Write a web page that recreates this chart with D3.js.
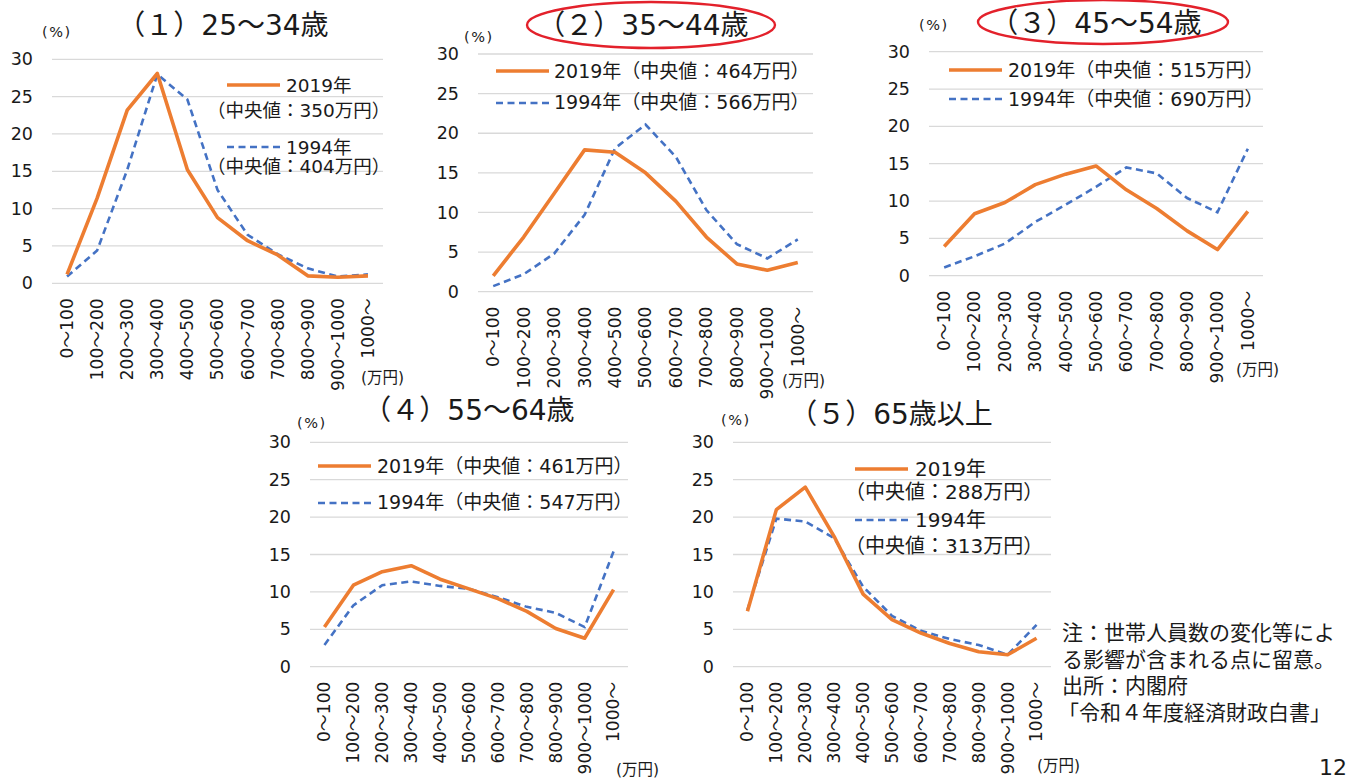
<!DOCTYPE html>
<html lang="ja">
<head>
<meta charset="utf-8">
<script src="https://cdn.jsdelivr.net/npm/d3@7"></script>
<style>
  html, body { margin: 0; padding: 0; background: #fff; }
  svg { display: block; font-family: "DejaVu Sans", "Noto Sans CJK JP", sans-serif; }
</style>
</head>
<body>
<svg id="chart" width="1355" height="780"></svg>
<script>
// 所得階級（万円）
const categories = ["0～100", "100～200", "200～300", "300～400", "400～500", "500～600",
                    "600～700", "700～800", "800～900", "900～1000", "1000～"];
const yTicks = [0, 5, 10, 15, 20, 25, 30];

const titles = ["（１）25～34歳", "（２）35～44歳", "（３）45～54歳", "（４）55～64歳", "（５）65歳以上"];
const median2019 = [350, 464, 515, 461, 288];
const median1994 = [404, 566, 690, 547, 313];

// 世帯の所得分布（%）
const age25_34_2019 = [1.2, 11.4, 23.2, 28.1, 15.2, 8.8, 5.7, 3.8, 1.0, 0.8, 1.0];
const age25_34_1994 = [0.9, 4.4, 15.2, 28.0, 24.6, 12.5, 6.5, 3.9, 2.0, 0.9, 1.2];
const age35_44_2019 = [2.0, 6.9, 12.4, 17.9, 17.6, 15.0, 11.4, 6.9, 3.5, 2.7, 3.7];
const age35_44_1994 = [0.7, 2.2, 4.8, 9.7, 18.1, 21.1, 17.0, 10.3, 6.0, 4.2, 6.6];
const age45_54_2019 = [3.9, 8.3, 9.8, 12.2, 13.6, 14.7, 11.5, 9.0, 6.0, 3.5, 8.6];
const age45_54_1994 = [1.1, 2.6, 4.3, 7.2, 9.5, 11.9, 14.5, 13.7, 10.4, 8.5, 17.0];
const age55_64_2019 = [5.3, 10.9, 12.7, 13.5, 11.7, 10.4, 9.1, 7.4, 5.1, 3.8, 10.3];
const age55_64_1994 = [2.9, 8.2, 10.9, 11.4, 10.8, 10.4, 9.3, 8.0, 7.2, 5.3, 15.4];
const age65over_2019 = [7.4, 21.0, 24.0, 17.4, 9.7, 6.3, 4.5, 3.1, 2.0, 1.6, 3.8];
const age65over_1994 = [7.6, 19.8, 19.4, 17.2, 10.7, 6.8, 4.8, 3.7, 2.9, 1.6, 5.6];

const series2019 = [age25_34_2019, age35_44_2019, age45_54_2019, age55_64_2019, age65over_2019];
const series1994 = [age25_34_1994, age35_44_1994, age45_54_1994, age55_64_1994, age65over_1994];

const noteLines = ["注：世帯人員数の変化等によ", "る影響が含まれる点に留意。", "出所：内閣府", "「令和４年度経済財政白書」"];

const ORANGE = "#ED7D31", BLUE = "#4472C4", GRID = "#d9d9d9", INK = "#1a1a1a";

// 各パネルの配置
const panels = [
  { x0: 52,  x1: 383,  yTop: 59.3, yBot: 283.3, title: [223, 35], pct: [42, 37], unit: [361, 383],
    legend: { split: true, fs: 18.5, lx: 227, tx: 286, sx: 207, oy: 85, oty: 92, osy: 117, by: 147, bty: 154, bsy: 173 } },
  { x0: 478, x1: 813,  yTop: 54,   yBot: 291.7, title: [643, 35], pct: [464, 42], unit: [782, 386],
    ellipse: [651, 25, 124, 23],
    legend: { split: false, fs: 19, lx: 496, tx: 554, oy: 71, oty: 78, by: 103, bty: 109 } },
  { x0: 929, x1: 1263, yTop: 51.7, yBot: 275.7, title: [1096, 33], pct: [919, 30], unit: [1236, 375],
    ellipse: [1103, 22, 125, 22],
    legend: { split: false, fs: 19, lx: 949, tx: 1008, oy: 70, oty: 77, by: 99, bty: 106 } },
  { x0: 310, x1: 628,  yTop: 442.3, yBot: 666.7, title: [469, 420], pct: [297, 428], unit: [616, 775],
    legend: { split: false, fs: 19, lx: 318, tx: 377, oy: 466, oty: 473, by: 503, bty: 509 } },
  { x0: 733, x1: 1051, yTop: 442.3, yBot: 666.7, title: [891, 424], pct: [721, 425], unit: [1037, 771],
    legend: { split: true, fs: 20, lx: 855, tx: 915, sx: 845, oy: 469, oty: 476, osy: 499, by: 520, bty: 527, bsy: 553 } }
];

const svg = d3.select("#chart");

panels.forEach((p, i) => {
  const g = svg.append("g");
  const x = d3.scaleBand().domain(categories).range([p.x0, p.x1]).padding(0);
  const y = d3.scaleLinear().domain([0, 30]).range([p.yBot, p.yTop]);
  const cx = c => x(c) + x.bandwidth() / 2;

  // 目盛線
  g.append("g").selectAll("line").data(yTicks).join("line")
    .attr("x1", p.x0).attr("x2", p.x1)
    .attr("y1", d => y(d)).attr("y2", d => y(d))
    .attr("stroke", GRID).attr("stroke-width", 1.3);

  // 縦軸ラベル
  const yAxis = d3.axisLeft(y).tickValues(yTicks).tickSize(0).tickPadding(19);
  const ya = g.append("g").attr("transform", `translate(${p.x0},0)`).call(yAxis);
  ya.select(".domain").remove();
  ya.selectAll("text").attr("font-size", 17.5).attr("fill", INK)
    .attr("font-family", "DejaVu Sans, Noto Sans CJK JP, sans-serif");

  // 横軸ラベル（縦書き回転）
  const xAxis = d3.axisBottom(x).tickSize(0).tickPadding(0);
  const xa = g.append("g").attr("transform", `translate(0,${p.yBot})`).call(xAxis);
  xa.select(".domain").remove();
  xa.selectAll("text")
    .attr("font-size", 17).attr("fill", INK)
    .attr("font-family", "DejaVu Sans, Noto Sans CJK JP, sans-serif")
    .attr("text-anchor", "end")
    .attr("transform", "translate(0,15) rotate(-90)")
    .attr("x", 0).attr("y", 0).attr("dy", "0.35em");

  // 折れ線
  const line = d3.line().x((d, k) => cx(categories[k])).y(d => y(d));
  g.append("path").datum(series1994[i]).attr("d", line)
    .attr("fill", "none").attr("stroke", BLUE).attr("stroke-width", 2.6)
    .attr("stroke-dasharray", "7,4.5");
  g.append("path").datum(series2019[i]).attr("d", line)
    .attr("fill", "none").attr("stroke", ORANGE).attr("stroke-width", 3.6)
    .attr("stroke-linejoin", "round");

  // タイトル
  g.append("text").attr("x", p.title[0]).attr("y", p.title[1])
    .attr("text-anchor", "middle").attr("font-size", 28).attr("fill", INK)
    .text(titles[i]);
  if (p.ellipse) {
    g.append("ellipse").attr("cx", p.ellipse[0]).attr("cy", p.ellipse[1])
      .attr("rx", p.ellipse[2]).attr("ry", p.ellipse[3])
      .attr("fill", "none").attr("stroke", "#e3212b").attr("stroke-width", 2.4);
  }

  // 単位
  g.append("text").attr("x", p.pct[0]).attr("y", p.pct[1])
    .attr("font-size", 14.5).attr("letter-spacing", 1.5).attr("fill", INK).text("(%)");
  g.append("text").attr("x", p.unit[0]).attr("y", p.unit[1])
    .attr("font-size", 15.5).attr("fill", INK).text("(万円)");

  // 凡例
  const L = p.legend;
  const lg = g.append("g").attr("font-size", L.fs).attr("fill", INK);
  lg.append("line").attr("x1", L.lx).attr("x2", L.lx + 53).attr("y1", L.oy).attr("y2", L.oy)
    .attr("stroke", ORANGE).attr("stroke-width", 3.6);
  lg.append("line").attr("x1", L.lx).attr("x2", L.lx + 53).attr("y1", L.by).attr("y2", L.by)
    .attr("stroke", BLUE).attr("stroke-width", 2.6).attr("stroke-dasharray", "7,4.5");
  if (L.split) {
    lg.append("text").attr("x", L.tx).attr("y", L.oty).text("2019年");
    lg.append("text").attr("x", L.sx).attr("y", L.osy).text(`（中央値：${median2019[i]}万円）`);
    lg.append("text").attr("x", L.tx).attr("y", L.bty).text("1994年");
    lg.append("text").attr("x", L.sx).attr("y", L.bsy).text(`（中央値：${median1994[i]}万円）`);
  } else {
    lg.append("text").attr("x", L.tx).attr("y", L.oty).text(`2019年（中央値：${median2019[i]}万円）`);
    lg.append("text").attr("x", L.tx).attr("y", L.bty).text(`1994年（中央値：${median1994[i]}万円）`);
  }
});

// 注記・出所
svg.append("g").attr("font-size", 21).attr("fill", INK)
  .selectAll("text").data(noteLines).join("text")
  .attr("x", (d, k) => k === 3 ? 1058 : 1062)
  .attr("y", (d, k) => 640 + k * 26.7)
  .text(d => d);

// ページ番号
svg.append("text").attr("x", 1347).attr("y", 775).attr("text-anchor", "end")
  .attr("font-size", 22).attr("fill", INK).text("12");
</script>
</body>
</html>
